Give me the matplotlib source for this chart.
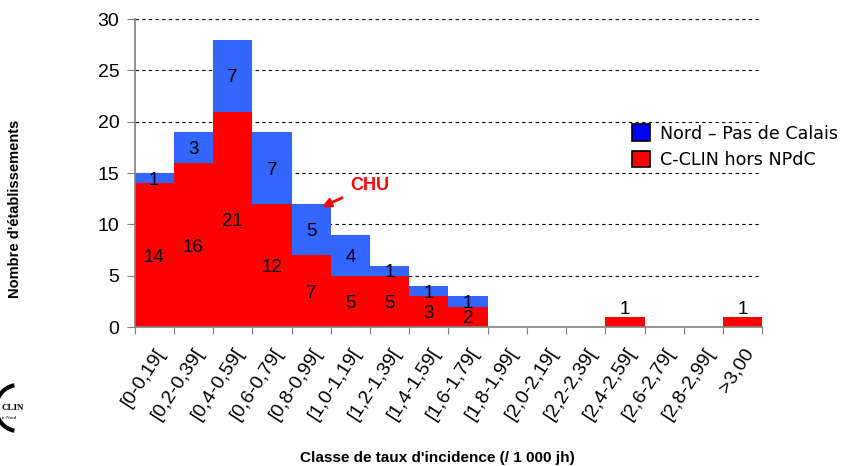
import matplotlib
matplotlib.use("Agg")
import matplotlib.pyplot as plt
import numpy as np
from matplotlib.patches import Patch, Arc

categories = ["[0-0,19[", "[0,2-0,39[", "[0,4-0,59[", "[0,6-0,79[", "[0,8-0,99[",
              "[1,0-1,19[", "[1,2-1,39[", "[1,4-1,59[", "[1,6-1,79[", "[1,8-1,99[",
              "[2,0-2,19[", "[2,2-2,39[", "[2,4-2,59[", "[2,6-2,79[", "[2,8-2,99[", ">3,00"]
hors_npdc = [14, 16, 21, 12, 7, 5, 5, 3, 2, 0, 0, 0, 1, 0, 0, 1]
npdc = [1, 3, 7, 7, 5, 4, 1, 1, 1, 0, 0, 0, 0, 0, 0, 0]
yticks = [0, 5, 10, 15, 20, 25, 30]

red = "#FF0000"
blue_bar = "#3366FF"
blue_leg = "#0000FF"

fig = plt.figure(figsize=(8.47, 4.66), dpi=100)
ax = fig.add_axes([0.159, 0.298, 0.741, 0.661])

x = np.arange(len(categories))
ax.bar(x, hors_npdc, width=1.0, color=red, zorder=2)
ax.bar(x, npdc, width=1.0, bottom=hors_npdc, color=blue_bar, zorder=2)

lf = dict(family="Liberation Sans", fontsize=13.5, ha="center", va="center", zorder=3)
dy = -0.2
for i, (r, b) in enumerate(zip(hors_npdc, npdc)):
    if r > 0:
        if b == 0 and r == 1:
            ax.text(i, r + 0.75, str(r), **lf)
        else:
            ax.text(i, r / 2 + dy, str(r), **lf)
    if b > 0:
        ax.text(i, r + b / 2 + dy, str(b), **lf)

ax.set_xlim(-0.5, len(categories) - 0.5)
ax.set_ylim(0, 30)
ax.set_yticks(yticks)
ax.set_yticklabels([str(v) for v in yticks], family="Liberation Sans", fontsize=14)
for v in yticks[1:]:
    ax.axhline(v, color="black", linestyle=(0, (3, 3)), linewidth=0.8, zorder=1)

ax.set_xticks(np.arange(-0.5, len(categories), 1.0))
ax.set_xticklabels([])
ax.set_xticks(x, minor=True)
ax.set_xticklabels(categories, minor=True, rotation=57, ha="right", va="top",
                   rotation_mode="anchor", family="Liberation Sans", fontsize=14)
ax.tick_params(axis="x", which="minor", length=0, pad=13)
ax.tick_params(axis="x", which="major", length=5, color="#808080")
ax.tick_params(axis="y", length=6, color="#808080", pad=5)

for s in ["top", "right"]:
    ax.spines[s].set_visible(False)
for s in ["left", "bottom"]:
    ax.spines[s].set_color("#808080")
    ax.spines[s].set_linewidth(1.2)

ax.annotate("CHU", xy=(4.27, 11.7), xytext=(4.99, 13.8), color=red,
            fontsize=13, fontweight="bold", family="Liberation Sans",
            ha="left", va="center",
            arrowprops=dict(arrowstyle="-|>", color=red, lw=2, mutation_scale=13,
                            shrinkA=4, shrinkB=0))

handles = [Patch(facecolor=blue_leg, edgecolor="black", linewidth=1.2),
           Patch(facecolor=red, edgecolor="black", linewidth=1.2)]
fig.legend(handles, ["Nord – Pas de Calais", "C-CLIN hors NPdC"],
           loc="upper left", bbox_to_anchor=(0.727, 0.767), frameon=False,
           prop=dict(family="DejaVu Sans", size=12.6), handlelength=1.05,
           handleheight=1.1, handletextpad=0.6, labelspacing=0.45)

fig.text(0.018, 0.551, "Nombre d'établissements", rotation=90, ha="center", va="center",
         family="Liberation Sans", fontsize=10.5, fontweight="bold")
fig.text(0.516, 0.017, "Classe de taux d'incidence (/ 1 000 jh)", ha="center", va="center",
         family="Liberation Sans", fontsize=11, fontweight="bold")

# logo fragment
fig.text(0.002, 1 - 408 / 466, "CLIN", family="Liberation Serif", fontsize=6.5,
         fontweight="bold", ha="left", va="center")
fig.text(0.002, 1 - 418 / 466, "is-Nord", family="Liberation Serif", fontsize=3.6,
         ha="left", va="center")
fig.add_artist(Arc((18 / 847, 1 - 408 / 466), 44 / 847, 46 / 466, theta1=95, theta2=265,
                   transform=fig.transFigure, lw=3, color="black"))

fig.savefig("out.png", dpi=100)
